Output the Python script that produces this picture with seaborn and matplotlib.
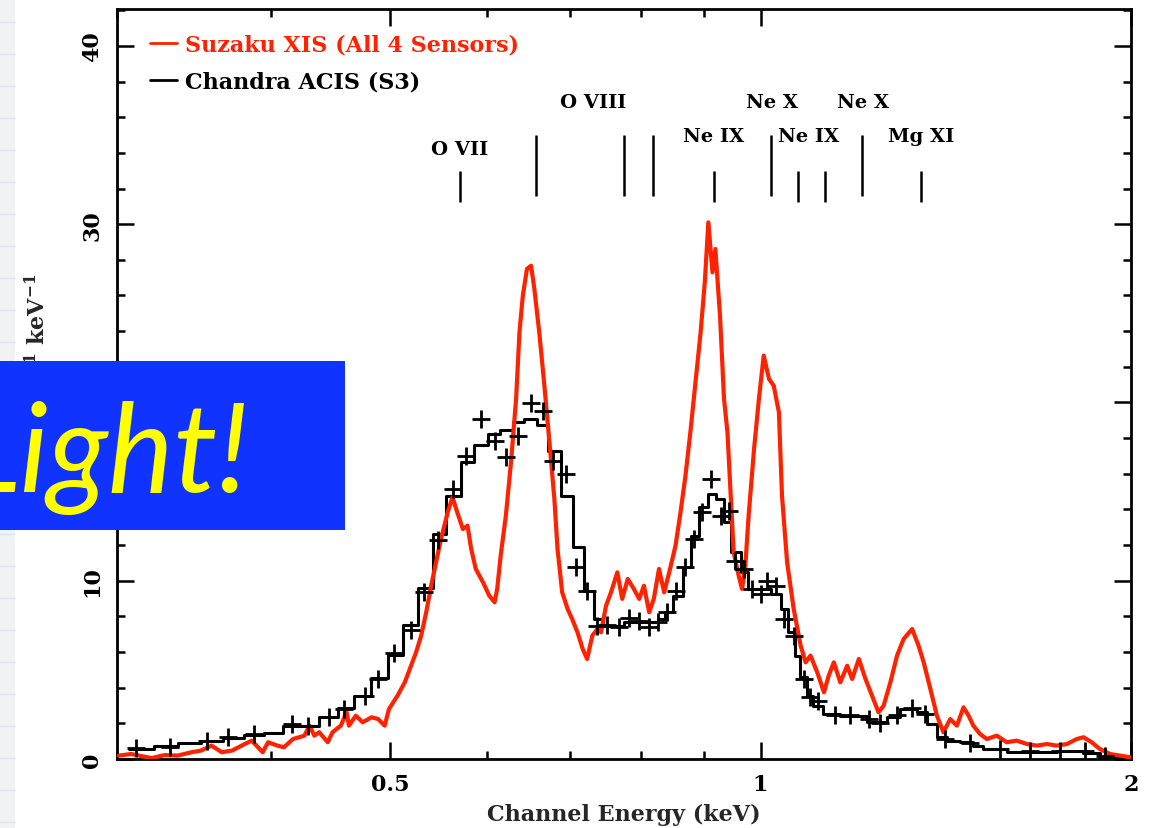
import numpy as np
import pandas as pd
import matplotlib
matplotlib.use("Agg")
import matplotlib.pyplot as plt
import seaborn as sns
from matplotlib.ticker import FixedLocator, NullFormatter, MultipleLocator, FixedFormatter
from matplotlib.patches import Rectangle
from matplotlib.lines import Line2D

# ---------------- data ----------------
suzaku_energy = [0.301, 0.308, 0.320, 0.328, 0.336, 0.345, 0.351, 0.358, 0.365, 0.372,
                 0.381, 0.386, 0.394, 0.398, 0.405, 0.410, 0.417, 0.426, 0.430, 0.434,
                 0.438, 0.445, 0.449, 0.456, 0.461, 0.463, 0.469, 0.475, 0.483, 0.489,
                 0.495, 0.499, 0.507, 0.514, 0.520, 0.525, 0.530, 0.535, 0.540, 0.545,
                 0.550, 0.557, 0.562, 0.567, 0.573, 0.578, 0.582, 0.587, 0.595, 0.602,
                 0.608, 0.611, 0.615, 0.621, 0.627, 0.633, 0.637, 0.641, 0.646, 0.651,
                 0.655, 0.661, 0.667, 0.673, 0.680, 0.684, 0.690, 0.697, 0.703, 0.710,
                 0.717, 0.723, 0.730, 0.737, 0.742, 0.749, 0.756, 0.765, 0.772, 0.780,
                 0.789, 0.797, 0.804, 0.812, 0.819, 0.827, 0.835, 0.843, 0.853, 0.861,
                 0.869, 0.877, 0.886, 0.894, 0.901, 0.907, 0.914, 0.919, 0.927, 0.934,
                 0.940, 0.946, 0.951, 0.960, 0.966, 0.972, 0.978, 0.988, 0.997, 1.006,
                 1.016, 1.025, 1.035, 1.041, 1.051, 1.064, 1.078, 1.088, 1.098, 1.112,
                 1.126, 1.136, 1.147, 1.161, 1.176, 1.187, 1.202, 1.217, 1.232, 1.247,
                 1.259, 1.275, 1.291, 1.307, 1.328, 1.344, 1.357, 1.374, 1.391, 1.408,
                 1.426, 1.444, 1.462, 1.476, 1.489, 1.508, 1.527, 1.556, 1.585, 1.615,
                 1.646, 1.677, 1.709, 1.740, 1.774, 1.807, 1.830, 1.858, 1.887, 1.923,
                 1.959, 1.996]
suzaku_counts = [0.19, 0.28, 0.05, 0.22, 0.19, 0.38, 0.47, 0.75, 0.38, 0.47,
                 0.84, 1.03, 0.38, 0.94, 0.75, 0.66, 1.12, 1.31, 1.87, 1.31,
                 1.50, 0.94, 1.50, 1.87, 2.62, 1.87, 2.43, 2.06, 2.34, 2.24,
                 1.87, 2.80, 3.55, 4.30, 5.23, 5.99, 6.92, 8.23, 9.72, 11.04,
                 12.34, 13.84, 14.68, 13.84, 12.90, 13.09, 11.78, 10.66, 9.91, 9.16,
                 8.79, 9.54, 11.41, 13.65, 16.65, 20.20, 23.94, 25.99, 27.49, 27.67,
                 26.37, 23.94, 21.13, 18.14, 14.59, 11.78, 9.35, 8.42, 7.85, 7.11,
                 6.17, 5.61, 6.92, 7.29, 7.11, 8.60, 9.35, 10.47, 8.98, 10.10,
                 9.54, 8.98, 9.72, 8.23, 8.98, 10.66, 9.35, 10.47, 11.97, 13.84,
                 15.89, 18.33, 21.32, 23.94, 26.74, 30.10, 27.30, 28.61, 24.87, 20.20,
                 18.33, 14.59, 11.60, 10.28, 9.54, 10.84, 13.65, 17.39, 20.20, 22.63,
                 21.32, 20.94, 19.45, 14.77, 11.04, 8.42, 6.36, 5.42, 5.80, 4.86,
                 3.74, 4.67, 5.42, 4.30, 5.23, 4.49, 5.61, 4.49, 3.55, 2.62,
                 2.99, 4.30, 5.80, 6.73, 7.29, 6.36, 5.42, 3.93, 2.43, 1.50,
                 2.24, 1.87, 2.90, 2.43, 1.87, 1.40, 1.12, 1.31, 0.94, 1.03,
                 0.84, 0.75, 0.84, 0.75, 0.84, 1.12, 1.22, 0.94, 0.56, 0.28,
                 0.19, 0.10]

chandra_model_edges = [0.307, 0.3218, 0.3365, 0.3513, 0.366, 0.3806, 0.3951, 0.4094, 0.4379, 0.4537,
                       0.4675, 0.4826, 0.4981, 0.5123, 0.5268, 0.5418, 0.5552, 0.571, 0.585, 0.6005,
                       0.6141, 0.6292, 0.6423, 0.658, 0.6717, 0.6882, 0.7038, 0.7184, 0.732, 0.7443,
                       0.7742, 0.8249, 0.8358, 0.8484, 0.8644, 0.8774, 0.8906, 0.9057, 0.9194, 0.9332,
                       0.9455, 0.9633, 0.976, 1.0189, 1.0381, 1.0518, 1.0676, 1.0776, 1.0918, 1.1041,
                       1.1249, 1.1612, 1.2213, 1.2678, 1.299, 1.3409, 1.3661, 1.3919, 1.4181, 1.453,
                       1.4888, 1.5169, 1.5864, 1.7417, 1.8284, 1.8874, 1.9483, 1.9963]
chandra_model_counts = [0.56, 0.75, 0.88, 1.03, 1.18, 1.35, 1.46, 1.87, 2.34, 2.84,
                        3.55, 4.53, 5.86, 7.49, 9.59, 12.6, 14.77, 16.65, 17.62, 18.23,
                        18.46, 18.89, 19.07, 18.74, 17.3, 14.77, 11.87, 9.44, 7.85, 7.48,
                        7.7, 7.85, 8.23, 9.16, 10.79, 12.53, 14.12, 14.87, 14.59, 13.28,
                        11.6, 10.47, 9.54, 9.26, 8.42, 7.11, 5.8, 4.6, 3.53, 2.97,
                        2.52, 2.41, 2.08, 2.36, 2.81, 2.64, 1.96, 1.23, 1.01, 0.95,
                        0.75, 0.56, 0.41, 0.47, 0.34, 0.11, 0.03]

chandra_data_energy = [0.311, 0.331, 0.355, 0.369, 0.388, 0.416, 0.429, 0.446, 0.459, 0.477,
                       0.489, 0.504, 0.520, 0.533, 0.547, 0.562, 0.576, 0.593, 0.608, 0.621,
                       0.635, 0.651, 0.666, 0.678, 0.695, 0.708, 0.723, 0.737, 0.751, 0.767,
                       0.782, 0.797, 0.812, 0.825, 0.840, 0.853, 0.869, 0.883, 0.897, 0.912,
                       0.928, 0.943, 0.954, 0.969, 0.985, 1.000, 1.013, 1.029, 1.045, 1.064,
                       1.084, 1.098, 1.114, 1.150, 1.183, 1.224, 1.251, 1.292, 1.328, 1.361,
                       1.413, 1.481, 1.566, 1.656, 1.752, 1.835, 1.905]
chandra_data_counts = [0.60, 0.66, 1.03, 1.22, 1.40, 1.96, 1.87, 2.37, 2.80, 3.55,
                       4.49, 5.95, 7.26, 9.35, 12.31, 15.15, 17.02, 19.07, 17.86, 16.93,
                       18.14, 19.97, 19.50, 16.74, 15.99, 10.75, 9.44, 7.48, 7.52, 7.39,
                       7.89, 7.76, 7.39, 7.67, 8.23, 9.44, 10.75, 12.34, 13.84, 15.71,
                       13.65, 13.93, 11.12, 10.66, 9.54, 9.26, 10.00, 9.72, 7.85, 6.92,
                       4.49, 3.48, 3.25, 2.47, 2.47, 2.24, 2.02, 2.47, 2.86, 2.52,
                       1.12, 0.90, 0.56, 0.45, 0.45, 0.45, 0.17]

line_energy = [0.570, 0.657, 0.774, 0.818, 0.916, 1.020, 1.073, 1.128, 1.210, 1.351]
line_bottom = [31.27, 31.60, 31.60, 31.60, 31.27, 31.60, 31.27, 31.27, 31.60, 31.27]
line_top = [32.99, 35.03, 35.03, 35.03, 32.99, 35.03, 32.99, 32.99, 35.03, 32.99]

label_text = ["O VII", "O VIII", "Ne IX", "Ne X", "Ne IX", "Ne X", "Mg XI"]
label_energy = [0.570, 0.7306, 0.916, 1.0227, 1.0939, 1.2122, 1.3509]
label_y = [34.20, 36.88, 34.97, 36.88, 34.97, 36.88, 34.97]

series_names = ["Suzaku XIS (All 4 Sensors)", "Chandra ACIS (S3)"]
x_major = [0.5, 1, 2]
x_major_labels = ["0.5", "1", "2"]
x_minor = [0.3, 0.4, 0.6, 0.7, 0.8, 0.9]
y_major = [0, 10, 20, 30, 40]

RED = "#ff2200"

# ---------------- style ----------------
sns.set_style("ticks")
plt.rcParams["font.family"] = ["DejaVu Serif"]
plt.rcParams["font.weight"] = "bold"
plt.rcParams["mathtext.fontset"] = "dejavuserif"
plt.rcParams["mathtext.default"] = "bf"

fig = plt.figure(figsize=(11.54, 8.29), dpi=100)
fig.patch.set_facecolor("white")

# slide background strip at the far left
fig.add_artist(Rectangle((0, 0), 15 / 1154, 1, transform=fig.transFigure,
                         facecolor="#f1f2f3", edgecolor="none", zorder=0))
for k in range(26):
    yy = 1 - (23 + 32 * k) / 829
    fig.add_artist(Line2D([0, 15 / 1154], [yy, yy], transform=fig.transFigure,
                          color="#d8e8f2", lw=1.0, zorder=0.5))

ax = fig.add_axes([117 / 1154, 1 - 760 / 829, 1014 / 1154, 750 / 829])
ax.set_facecolor("white")

model_df = pd.DataFrame({"energy": chandra_model_edges,
                         "counts": chandra_model_counts + [chandra_model_counts[-1]]})
suz_df = pd.DataFrame({"energy": suzaku_energy, "counts": suzaku_counts})
dat_df = pd.DataFrame({"energy": chandra_data_energy, "counts": chandra_data_counts})

sns.lineplot(data=model_df, x="energy", y="counts", ax=ax, color="black", lw=2.2,
             drawstyle="steps-post", estimator=None, sort=False, label=series_names[1], zorder=3)
sns.lineplot(data=suz_df, x="energy", y="counts", ax=ax, color=RED, lw=3.0,
             estimator=None, sort=False, label=series_names[0], zorder=4)
sns.scatterplot(data=dat_df, x="energy", y="counts", ax=ax, marker="+", s=150,
                color="black", linewidth=2.0, zorder=5, legend=False)

ax.set_xscale("log")
ax.set_xlim(0.3, 2.0)
ax.set_ylim(0, 42.07)

ax.xaxis.set_major_locator(FixedLocator(x_major))
ax.xaxis.set_major_formatter(FixedFormatter(x_major_labels))
ax.xaxis.set_minor_locator(FixedLocator(x_minor))
ax.xaxis.set_minor_formatter(NullFormatter())
ax.yaxis.set_major_locator(FixedLocator(y_major))
ax.yaxis.set_minor_locator(MultipleLocator(2))

ax.tick_params(which="both", direction="in", top=True, right=True, width=1.8, colors="black")
ax.tick_params(which="major", length=12)
ax.tick_params(which="minor", length=6)
ax.tick_params(axis="x", labelsize=16, pad=10)
ax.tick_params(axis="y", labelsize=16, pad=10)
for lab in ax.get_yticklabels():
    lab.set_rotation(90)
    lab.set_va("center")
for sp in ax.spines.values():
    sp.set_linewidth(2.0)
    sp.set_color("black")

# line identifications
ax.vlines(line_energy, line_bottom, line_top, color="black", lw=1.8, zorder=3)
for t, e, yv in zip(label_text, label_energy, label_y):
    ax.text(e, yv, t, ha="center", va="center", fontsize=14, fontweight="bold", color="black")

ax.set_xlabel("Channel Energy (keV)", fontsize=16, fontweight="bold")
ax.xaxis.set_label_coords(0.5, -0.058)
ax.set_ylabel("Counts s$^{-1}$ keV$^{-1}$", fontsize=16, fontweight="bold")
ax.yaxis.set_label_coords(-0.066, 0.508)

handles, labels = ax.get_legend_handles_labels()
order = [labels.index(series_names[0]), labels.index(series_names[1])]
leg = ax.legend([handles[i] for i in order], [labels[i] for i in order],
                loc="upper left", bbox_to_anchor=(0.0325, 0.967), borderaxespad=0,
                borderpad=0, frameon=False, handlelength=1.2, handletextpad=0.38,
                labelspacing=0.68, fontsize=16, labelcolor="linecolor")
for h in leg.get_lines():
    h.set_linewidth(2.0)

# overlay box from the slide
fig.add_artist(Rectangle((0, 1 - 531 / 829), 345 / 1154, 169 / 829, transform=fig.transFigure,
                         facecolor="#1033ff", edgecolor="none", zorder=10))
fig.text(250 / 1154, 1 - 492 / 829, "Light!", fontfamily="Lato", style="italic",
         fontweight="normal", color="#ffff00", fontsize=89, ha="right", va="baseline", zorder=11)

fig.savefig("out.png", dpi=100, facecolor="white")
